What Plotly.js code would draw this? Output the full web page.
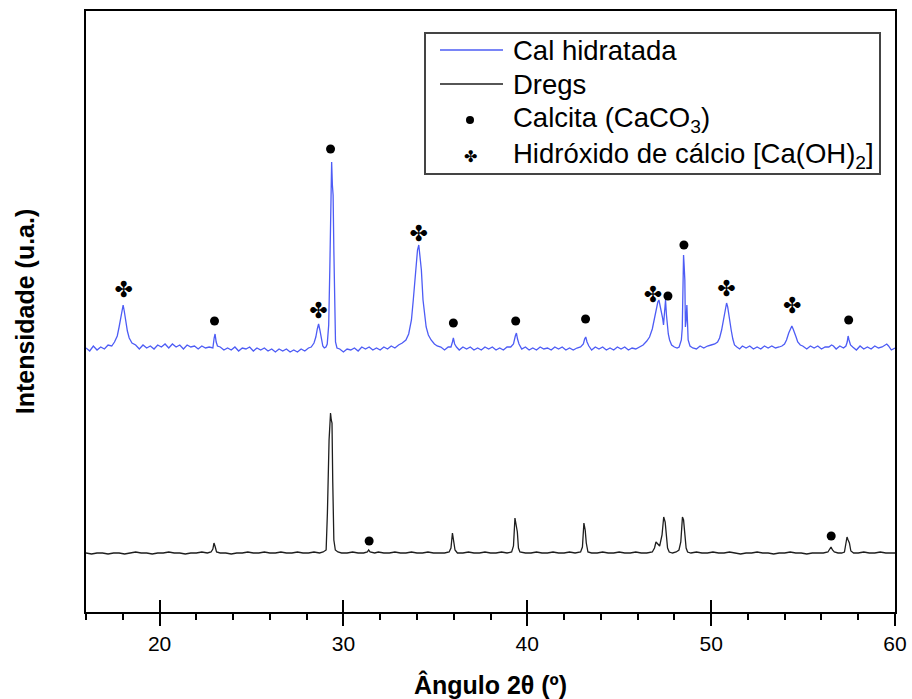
<!DOCTYPE html>
<html>
<head>
<meta charset="utf-8">
<script src="https://cdn.plot.ly/plotly-3.0.1.min.js"></script>
<style>html,body{margin:0;padding:0;background:#fff;}#chart{width:912px;height:699px;}</style>
</head>
<body>
<div id="chart"></div>
<script>
// ---- Data (2θ in degrees, intensity in arbitrary units) ----
const calX = [
  16.0,16.2,16.4,16.6,16.8,17.0,17.2,17.4,
  17.55,17.7,17.8,17.9,17.97,18.02,18.08,18.15,18.25,18.35,18.5,
  18.7,18.9,19.1,19.3,19.5,19.7,19.9,20.1,20.3,20.5,20.7,20.9,21.1,21.3,21.5,21.7,21.9,22.1,22.3,22.5,22.7,22.9,
  22.97,23.02,23.08,23.15,
  23.3,23.5,23.7,23.9,24.1,24.3,24.5,24.7,24.9,25.1,25.3,25.5,25.7,25.9,26.1,26.3,26.5,26.7,26.9,27.1,27.3,27.5,27.7,27.9,28.1,
  28.25,28.4,28.5,28.58,28.65,28.72,28.8,28.88,28.96,29.05,29.12,29.2,29.26,29.32,29.36,29.4,29.44,29.48,29.52,29.57,29.65,
  29.8,30.0,30.2,30.4,30.6,30.8,31.0,31.2,31.4,31.6,31.8,32.0,32.2,32.4,32.6,32.8,
  33.0,33.2,33.4,33.55,33.7,33.8,33.88,33.96,34.03,34.1,34.17,34.24,34.33,34.42,34.5,34.62,34.77,34.95,35.1,
  35.3,35.5,35.7,35.85,35.93,35.98,36.05,36.15,
  36.3,36.5,36.7,36.9,37.1,37.3,37.5,37.7,37.9,38.1,38.3,38.5,38.7,38.9,
  39.1,39.25,39.35,39.41,39.47,39.55,
  39.7,39.9,40.1,40.3,40.5,40.7,40.9,41.1,41.3,41.5,41.7,41.9,42.1,42.3,42.5,42.7,
  42.9,43.05,43.12,43.18,43.25,43.35,
  43.5,43.7,43.9,44.1,44.3,44.5,44.7,44.9,45.1,45.3,45.5,45.7,45.9,
  46.1,46.3,46.5,46.65,46.8,46.9,47.0,47.1,47.16,47.22,47.29,47.36,47.41,47.46,47.52,47.57,47.61,47.67,47.74,47.85,48.0,48.15,48.26,48.38,48.43,48.47,48.5,48.53,48.57,48.6,48.64,48.68,48.71,48.75,48.85,
  49.0,49.2,49.4,49.6,49.8,
  50.0,50.2,50.35,50.46,50.57,50.67,50.74,50.8,50.84,50.9,50.96,51.03,51.09,51.18,51.27,51.4,
  51.55,51.7,51.9,52.1,52.3,52.5,52.7,52.9,53.1,53.3,53.5,
  53.7,53.85,53.99,54.1,54.22,54.32,54.39,54.46,54.53,54.62,54.71,54.85,54.98,
  55.2,55.4,55.6,55.8,56.0,56.2,56.4,56.55,56.65,56.8,57.0,57.2,
  57.33,57.4,57.45,57.5,57.58,57.7,
  57.9,58.1,58.3,58.5,58.7,58.9,59.1,59.3,59.45,59.55,59.65,59.8,60.0];
const calY = [
  262,259,264,260,263,261,265,264,
  268,274,283,294,303,305,299,289,279,272,267,
  265,261,265,262,264,261,265,263,266,262,266,263,265,261,265,263,264,261,264,262,263,262,
  272,276,268,264,
  263,260,262,260,263,259,262,261,263,259,262,260,262,259,261,258,261,259,261,258,260,258,261,259,262,
  263,267,273,281,286,280,270,264,262,263,266,285,340,430,448,425,415,360,290,268,262,
  261,258,261,260,262,259,263,261,263,260,262,260,263,261,264,262,
  265,267,270,276,290,310,330,348,360,365,355,340,310,292,283,275,270,266,264,
  263,260,263,263,268,272,266,263,
  260,263,261,263,260,262,260,263,261,263,260,262,260,263,
  263,266,274,277,271,266,
  261,263,260,262,260,263,261,262,260,263,261,263,260,262,260,262,
  263,266,271,273,268,264,
  260,263,261,263,260,262,260,263,261,263,260,262,261,
  263,265,269,273,281,290,300,308,310,305,300,292,285,298,310,295,285,276,270,265,263,262,263,270,282,330,355,345,330,283,290,305,285,270,264,
  262,261,264,262,264,
  265,266,268,272,280,290,300,306,307,303,297,288,280,271,265,263,
  261,264,262,264,261,263,261,264,262,264,262,
  263,264,266,270,277,282,284,281,278,273,268,265,264,
  261,264,262,264,261,263,263,265,264,261,264,262,
  264,268,274,270,265,263,
  260,264,261,263,261,264,262,263,265,266,264,260,262];

const dregsX = [16.0,16.3,16.6,16.9,17.2,17.5,17.8,18.1,18.4,18.7,19.0,19.3,19.6,19.9,20.2,20.5,20.8,21.1,21.4,21.7,22.0,22.3,22.6,22.8,22.9,22.96,23.03,23.1,23.3,23.6,23.9,24.2,24.5,24.8,25.1,25.4,25.7,26.0,26.3,26.6,26.9,27.2,27.5,27.8,28.1,28.4,28.7,28.9,29.06,29.13,29.22,29.3,29.34,29.38,29.42,29.48,29.56,29.7,29.9,30.2,30.5,30.8,31.1,31.3,31.37,31.45,31.7,31.9,32.2,32.5,32.8,33.1,33.4,33.7,34.0,34.3,34.6,34.9,35.2,35.5,35.75,35.85,35.93,36.0,36.07,36.2,36.5,36.8,37.1,37.4,37.7,38.0,38.3,38.6,38.9,39.15,39.25,39.33,39.4,39.46,39.52,39.6,39.9,40.2,40.5,40.8,41.1,41.4,41.7,42.0,42.3,42.6,42.9,43.0,43.08,43.15,43.21,43.3,43.5,43.8,44.1,44.4,44.7,45.0,45.3,45.6,45.9,46.2,46.5,46.8,46.92,47.0,47.1,47.2,47.33,47.42,47.5,47.56,47.63,47.72,47.9,48.1,48.25,48.35,48.44,48.5,48.57,48.64,48.72,48.9,49.2,49.5,49.8,50.1,50.4,50.7,51.0,51.3,51.6,51.9,52.2,52.5,52.8,53.1,53.4,53.7,54.0,54.3,54.6,54.9,55.2,55.5,55.8,56.1,56.35,56.45,56.52,56.6,56.7,56.9,57.1,57.25,57.32,57.39,57.45,57.52,57.6,57.75,58.0,58.3,58.6,58.9,59.2,59.5,59.8,60.0];
const dregsY = [57,56,57,57,56,57,57,56,57,58,57,57,56,57,57,58,57,57,56,57,57,58,57,58,61,67,63,58,57,57,56,57,57,58,57,57,58,57,57,58,57,57,58,57,57,58,57,58,60,97,170,197,190,187,128,70,60,58,57,57,58,57,57,58,60,58,57,58,57,57,58,57,57,58,57,57,58,57,57,57,58,62,77,68,60,57,57,58,57,57,58,57,57,58,57,58,64,92,85,78,62,58,57,57,58,57,57,58,57,57,58,57,58,63,87,80,67,58,57,57,58,57,57,58,57,57,58,57,57,58,62,68,66,64,75,93,88,77,62,58,57,58,60,68,93,90,77,62,58,57,58,57,57,58,57,57,58,57,56,57,57,58,57,57,56,57,57,58,57,57,56,57,57,57,58,61,63,60,58,57,57,58,65,73,70,67,59,57,57,58,57,57,58,57,57,57];

// Peak markers
const calcitaX = [22.99,29.3,35.98,39.37,43.17,47.65,48.52,57.48,31.40,56.53];
const calcitaY = [289,461,287,289,291,314,365,290,69,74];
const hidroxidoX = [18.05,28.65,34.1,46.83,50.84,54.41];
const hidroxidoY = [319,298,375,314,320,303];

const xTickVals = [20,30,40,50,60];
const legendLabels = ["Cal hidratada","Dregs","Calcita (CaCO<sub>3</sub>)","Hidróxido de cálcio [Ca(OH)<sub>2</sub>]"];

// ---- Layout helpers (pixel -> paper) ----
const L = 86, R = 895, T = 11, B = 612;
const px = v => (v - L) / (R - L);
const py = v => (B - v) / (B - T);

const BLUE = '#4d5cf5', BLACK = '#1e1e1e';
const FONT = 'Liberation Sans, Arial, sans-serif';

const traces = [
  {x: calX, y: calY, mode: 'lines', line: {color: BLUE, width: 1.3}, name: legendLabels[0], hoverinfo: 'skip'},
  {x: dregsX, y: dregsY, mode: 'lines', line: {color: BLACK, width: 1.3}, name: legendLabels[1], hoverinfo: 'skip'},
  {x: calcitaX, y: calcitaY, mode: 'markers', marker: {symbol: 'circle', size: 9, color: '#000'}, name: legendLabels[2], hoverinfo: 'skip'},
  {x: hidroxidoX, y: hidroxidoY, mode: 'text', text: hidroxidoX.map(() => '✤'), textposition: 'middle center',
   textfont: {family: 'DejaVu Sans', size: 22, color: '#000'}, name: legendLabels[3], hoverinfo: 'skip'},
  // empty trace so that the secondary (inside-tick) x axis is drawn
  {x: [], y: [], xaxis: 'x2', yaxis: 'y', mode: 'lines', showlegend: false, hoverinfo: 'skip'}
];

const legendRows = [50, 84, 120, 155];
const shapes = [
  {type: 'rect', xref: 'paper', yref: 'paper', x0: px(425), x1: px(880), y0: py(174), y1: py(33),
   line: {color: '#444', width: 2}, fillcolor: 'rgba(255,255,255,1)', layer: 'above'},
  {type: 'line', xref: 'paper', yref: 'paper', x0: px(440), x1: px(503), y0: py(legendRows[0]), y1: py(legendRows[0]),
   line: {color: BLUE, width: 1.3}, layer: 'above'},
  {type: 'line', xref: 'paper', yref: 'paper', x0: px(440), x1: px(503), y0: py(legendRows[1]), y1: py(legendRows[1]),
   line: {color: BLACK, width: 1.3}, layer: 'above'},
  {type: 'circle', xref: 'paper', yref: 'paper', x0: px(466), x1: px(474), y0: py(124), y1: py(116),
   fillcolor: '#000', line: {color: '#000', width: 0}, layer: 'above'}
];

const annotations = legendLabels.map((t, i) => ({
  text: t, xref: 'paper', yref: 'paper', x: px(511), y: py(legendRows[i]), xanchor: 'left', yanchor: 'middle',
  showarrow: false, font: {family: FONT, size: 27.5, color: '#000'}
}));
annotations.push({text: '✤', xref: 'paper', yref: 'paper', x: px(470), y: py(156), xanchor: 'center', yanchor: 'middle',
  showarrow: false, font: {family: 'DejaVu Sans', size: 16, color: '#000'}});

const layout = {
  width: 912, height: 699,
  margin: {l: L, r: 912 - R, t: T, b: 699 - B, pad: 0},
  paper_bgcolor: '#fff', plot_bgcolor: '#fff',
  showlegend: false,
  font: {family: FONT, color: '#000'},
  xaxis: {
    range: [16, 60], tickvals: xTickVals, ticktext: xTickVals.map(String),
    ticks: 'outside', ticklen: 12, tickwidth: 2, tickcolor: '#000',
    minor: {dtick: 2, tick0: 0, ticks: 'outside', ticklen: 6, tickwidth: 2, tickcolor: '#000', showgrid: false},
    showline: true, linecolor: '#000', linewidth: 2, mirror: true,
    showgrid: false, zeroline: false,
    tickfont: {family: FONT, size: 21, color: '#000'},
    title: {text: 'Ângulo 2θ (º)', font: {family: FONT, size: 25, color: '#000', weight: 'bold'}, standoff: 22},
    automargin: false
  },
  xaxis2: {
    overlaying: 'x', anchor: 'y', side: 'bottom', range: [16, 60], tickvals: xTickVals,
    ticks: 'inside', ticklen: 12, tickwidth: 2, tickcolor: '#000',
    showticklabels: false, showline: false, showgrid: false, zeroline: false
  },
  yaxis: {
    range: [-2, 599], showticklabels: false, ticks: '',
    showline: true, linecolor: '#000', linewidth: 2, mirror: true,
    showgrid: false, zeroline: false,
    title: {text: 'Intensidade (u.a.)', font: {family: FONT, size: 25, color: '#000', weight: 'bold'}, standoff: 42},
    automargin: false
  },
  shapes: shapes,
  annotations: annotations
};

Plotly.newPlot('chart', traces, layout, {displayModeBar: false, staticPlot: true});
</script>
</body>
</html>
